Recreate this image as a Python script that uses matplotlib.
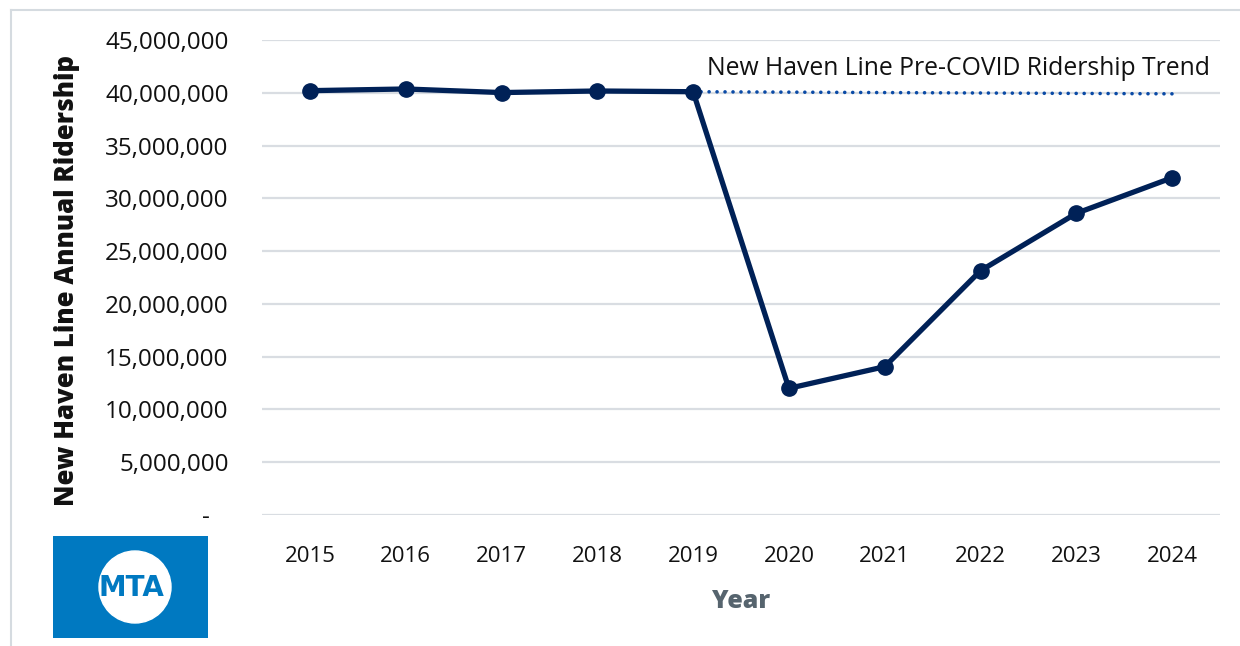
import matplotlib
matplotlib.use("Agg")
import matplotlib.pyplot as plt
from matplotlib.patches import Rectangle, Circle
from matplotlib.lines import Line2D
from matplotlib.ticker import FuncFormatter, MultipleLocator

# Annual ridership, New Haven Line
years = [2015, 2016, 2017, 2018, 2019, 2020, 2021, 2022, 2023, 2024]
ridership = [40.20e6, 40.36e6, 40.02e6, 40.17e6, 40.10e6,
             12.00e6, 14.05e6, 23.14e6, 28.58e6, 31.95e6]

# Pre-COVID trend endpoints
trend_years = [2019, 2024]
trend_values = [40.10e6, 39.90e6]

trend_label = "New Haven Line Pre-COVID Ridership Trend"
y_title = "New Haven Line Annual Ridership"
x_title = "Year"

NAVY = "#002157"
TREND = "#0a4aa6"
GRID = "#d9dde2"
FONT = "Open Sans"

fig = plt.figure(figsize=(12.4, 6.46), dpi=100)
ax = fig.add_axes([262 / 1240, 1 - 515 / 646, (1220 - 262) / 1240, (515 - 40) / 646])

xpos = list(range(len(years)))
pos_of = {y: i for i, y in enumerate(years)}

ax.plot(xpos, ridership, color=NAVY, lw=3.8, marker="o", ms=11,
        solid_joinstyle="round", zorder=3)
ax.plot([pos_of[y] for y in trend_years], trend_values, color=TREND, lw=2.6,
        linestyle=(0, (0.01, 2.2)), dash_capstyle="round", zorder=2)

ax.text(pos_of[2024] + 0.4, 42.3e6, trend_label, ha="right", va="center",
        fontsize=17.8, family=FONT, color="#111111")

ax.set_xlim(-0.5, len(years) - 0.5)
ax.set_ylim(0, 45e6)
ax.yaxis.set_major_locator(MultipleLocator(5e6))
ax.yaxis.set_major_formatter(FuncFormatter(
    lambda v, _: "-   " if v == 0 else f"{v:,.0f}"))
ax.set_xticks(xpos)
ax.set_xticklabels([str(y) for y in years])

ax.grid(axis="y", color=GRID, lw=1.6)
ax.set_axisbelow(True)
for s in ax.spines.values():
    s.set_visible(False)
ax.tick_params(axis="both", length=0, labelsize=16, labelcolor="#111111")
ax.tick_params(axis="y", pad=24, labelsize=17.5)
ax.tick_params(axis="x", pad=22)
for lbl in ax.get_xticklabels() + ax.get_yticklabels():
    lbl.set_family(FONT)

fig.text(67 / 1240, 1 - 280 / 646, y_title, rotation=90, ha="center", va="center",
         fontsize=18.5, fontweight="heavy", family=FONT, color="#111111")
fig.text(741 / 1240, 1 - 601 / 646, x_title, ha="center", va="center",
         fontsize=18, fontweight="heavy", family=FONT, color="#56646e")

# figure frame (left and top edges)
fig.add_artist(Line2D([11 / 1240, 11 / 1240], [0, 1 - 10 / 646],
                      transform=fig.transFigure, color="#d5dbe0", lw=1.5))
fig.add_artist(Line2D([11 / 1240, 1], [1 - 10 / 646, 1 - 10 / 646],
                      transform=fig.transFigure, color="#d5dbe0", lw=1.5))

# MTA logo
logo = fig.add_axes([53 / 1240, 1 - 638 / 646, 155 / 1240, 102 / 646])
logo.set_xlim(0, 155)
logo.set_ylim(0, 102)
logo.set_aspect("auto")
logo.axis("off")
logo.add_patch(Rectangle((0, 0), 155, 102, color="#0079c1"))
logo.add_patch(Circle((82, 51), 36, color="white"))
logo.text(78, 50, "MTA", ha="center", va="center", fontsize=20,
          fontweight="bold", family=["Liberation Sans Narrow", "DejaVu Sans"],
          color="#0079c1")

fig.savefig("out.png", dpi=100, facecolor="white")
